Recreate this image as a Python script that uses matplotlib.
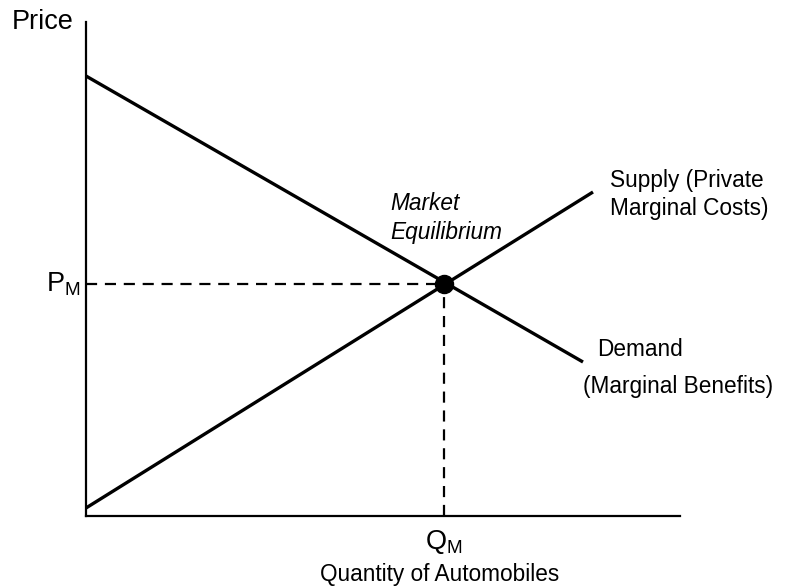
import matplotlib.pyplot as plt

plt.rcParams['font.family'] = ['Liberation Sans', 'DejaVu Sans']
plt.rcParams['mathtext.fontset'] = 'custom'
plt.rcParams['mathtext.rm'] = 'Liberation Sans'

# line end points (quantity, price), arbitrary units
demand_q = [0, 497]
demand_p = [440, 154]
supply_q = [0, 507]
supply_p = [8, 324]
eq_q = 358
eq_p = 232

fig = plt.figure(figsize=(7.9, 5.88), dpi=100)
ax = fig.add_axes([86/790, 72/588, 594/790, 494/588])
ax.set_xlim(0, 594)
ax.set_ylim(0, 494)

ax.plot(demand_q, demand_p, color='black', lw=2.4, solid_capstyle='butt')
ax.plot(supply_q, supply_p, color='black', lw=2.4, solid_capstyle='butt')
ax.plot([0, eq_q], [eq_p, eq_p], color='black', lw=1.6, ls=(0, (5, 3.5)))
ax.plot([eq_q, eq_q], [0, eq_p], color='black', lw=1.6, ls=(0, (5, 3.5)))
ax.plot([eq_q], [eq_p], 'o', color='black', ms=13, zorder=5)

for s in ['top', 'right']:
    ax.spines[s].set_visible(False)
for s in ['left', 'bottom']:
    ax.spines[s].set_linewidth(1.6)
ax.set_xticks([])
ax.set_yticks([])

ax.text(-74, 494, 'Price', fontsize=19.5, va='center', ha='left', clip_on=False)
ax.text(-6, eq_p, r'$\mathrm{P}_\mathrm{M}$', fontsize=19.5, va='center', ha='right')
ax.text(eq_q, -12, r'$\mathrm{Q}_\mathrm{M}$', fontsize=19.5, va='top', ha='center')
ax.text(354, -59, 'Quantity of Automobiles', fontsize=16.3, va='center', ha='center')
ax.text(304, 313, 'Market', fontsize=16.3, va='center', ha='left', style='italic')
ax.text(304, 283, 'Equilibrium', fontsize=16.3, va='center', ha='left', style='italic')
ax.text(524, 336, 'Supply (Private', fontsize=16.3, va='center', ha='left')
ax.text(524, 308, 'Marginal Costs)', fontsize=16.3, va='center', ha='left')
ax.text(511, 166, 'Demand', fontsize=16.3, va='center', ha='left')
ax.text(497, 129, '(Marginal Benefits)', fontsize=16.3, va='center', ha='left', clip_on=False)

fig.savefig('out.png', dpi=100)
